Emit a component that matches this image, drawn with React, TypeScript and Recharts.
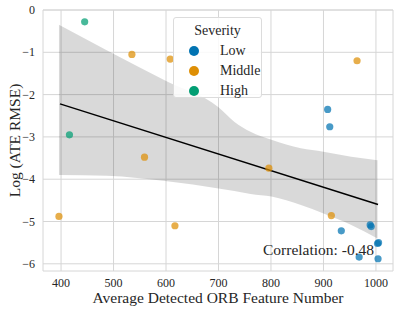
import { ComposedChart, Scatter, Line, Area, XAxis, YAxis, CartesianGrid, ReferenceLine, Legend } from "recharts"

// scatter points: [ORB features, log(ATE RMSE)]
const lowX = [908, 912, 934, 989, 991, 968, 1003, 1005, 1004]
const lowY = [-2.35, -2.76, -5.22, -5.08, -5.12, -5.84, -5.52, -5.5, -5.88]
const middleX = [396, 535, 559, 608, 617, 796, 915, 964]
const middleY = [-4.88, -1.05, -3.48, -1.16, -5.1, -3.74, -4.86, -1.2]
const highX = [416, 445]
const highY = [-2.95, -0.28]

// regression line end points
const fitX = [398, 1004]
const fitY = [-2.22, -4.6]

// confidence band
const bandX = [396, 487, 602, 700, 730, 761, 801, 857, 900, 953, 1003]
const bandLow = [-3.9, -3.92, -4.05, -4.22, -4.28, -4.35, -4.41, -4.61, -4.81, -5.08, -5.4]
const bandHigh = [-0.35, -0.95, -1.69, -2.3, -2.64, -2.88, -3.07, -3.27, -3.35, -3.47, -3.55]

const xTicks = [400, 500, 600, 700, 800, 900, 1000]
const yTicks = [0, -1, -2, -3, -4, -5, -6]

const severities = [
    { name: "Low", color: "#0173b2", xs: lowX, ys: lowY },
    { name: "Middle", color: "#de8f05", xs: middleX, ys: middleY },
    { name: "High", color: "#029e73", xs: highX, ys: highY },
]

const FONT = '"Liberation Serif", "DejaVu Serif", serif'
const TEXT = "#262626"
const GRID = "#d6d6d6"

const toPoints = (xs: number[], ys: number[]) => xs.map((x, i) => ({ x, y: ys[i] }))

const minus = (v: number) => String(v).replace("-", "\u2212")

const XTick = ({ x, y, payload }: any) => (
    <text x={x} y={y + 8} textAnchor="middle" fill={TEXT} fontSize={12} style={{ fontFamily: FONT }}>
        {payload.value}
    </text>
)

const YTick = ({ x, y, payload }: any) => (
    <text x={x} y={y + 4} textAnchor="end" fill={TEXT} fontSize={12} style={{ fontFamily: FONT }}>
        {minus(payload.value)}
    </text>
)

const XLabel = ({ viewBox }: any) => (
    <text
        x={viewBox.x + viewBox.width / 2}
        y={303}
        textAnchor="middle"
        fill={TEXT}
        fontSize={15.5}
        style={{ fontFamily: FONT }}
    >
        Average Detected ORB Feature Number
    </text>
)

const YLabel = ({ viewBox }: any) => {
    const cy = viewBox.y + viewBox.height / 2
    return (
        <text
            x={20}
            y={cy}
            transform={`rotate(-90 20 ${cy})`}
            textAnchor="middle"
            fill={TEXT}
            fontSize={15.5}
            style={{ fontFamily: FONT }}
        >
            Log (ATE RMSE)
        </text>
    )
}

const SeverityLegend = () => (
    <div
        style={{
            width: 89,
            height: 81,
            border: "1px solid #dcdcdc",
            borderRadius: 3,
            background: "rgba(255,255,255,0.85)",
            fontFamily: FONT,
            fontSize: 14,
            color: TEXT,
            boxSizing: "border-box",
        }}
    >
        <div style={{ textAlign: "center", marginTop: 3, height: 20, lineHeight: "20px" }}>Severity</div>
        {severities.map((s) => (
            <div key={s.name} style={{ display: "flex", alignItems: "center", height: 20 }}>
                <div style={{ width: 10, height: 10, borderRadius: 5, background: s.color, marginLeft: 15 }} />
                <span style={{ marginLeft: 21, lineHeight: "20px" }}>{s.name}</span>
            </div>
        ))}
    </div>
)

export default function App() {
    const band = bandX.map((x, i) => ({ x, range: [bandLow[i], bandHigh[i]] }))
    const fit = toPoints(fitX, fitY)

    return (
        <div style={{ position: "absolute", left: 0, top: 0, width: 399, height: 312, background: "#fff" }}>
            <ComposedChart
                width={399}
                height={312}
                margin={{ top: 10, right: 6, bottom: 0, left: 0 }}
                style={{ fontFamily: FONT }}
            >
                <CartesianGrid stroke={GRID} strokeWidth={1} horizontalValues={yTicks} verticalValues={xTicks} />
                <XAxis
                    type="number"
                    dataKey="x"
                    domain={[365.6, 1032.5]}
                    ticks={xTicks}
                    allowDataOverflow
                    height={41}
                    tickLine={false}
                    axisLine={{ stroke: GRID }}
                    tick={<XTick />}
                    label={<XLabel />}
                />
                <YAxis
                    type="number"
                    dataKey="y"
                    domain={[-6.17, 0]}
                    ticks={yTicks}
                    allowDataOverflow
                    width={43}
                    tickLine={false}
                    axisLine={{ stroke: GRID }}
                    tick={<YTick />}
                    label={<YLabel />}
                />
                <ReferenceLine y={0} stroke={GRID} />
                <ReferenceLine x={1032.5} stroke={GRID} />

                {severities.map((s) => (
                    <Scatter
                        key={s.name}
                        name={s.name}
                        data={toPoints(s.xs, s.ys)}
                        fill={s.color}
                        isAnimationActive={false}
                        shape={(p: any) => <circle cx={p.cx} cy={p.cy} r={3.6} fill={s.color} fillOpacity={0.72} />}
                    />
                ))}

                <Area
                    data={band}
                    dataKey="range"
                    type="monotone"
                    stroke="none"
                    fill="#000"
                    fillOpacity={0.15}
                    isAnimationActive={false}
                    legendType="none"
                />
                <Line
                    data={fit}
                    dataKey="y"
                    stroke="#000"
                    strokeWidth={1.5}
                    dot={false}
                    isAnimationActive={false}
                    legendType="none"
                />

                <Legend
                    layout="horizontal"
                    align="center"
                    verticalAlign="middle"
                    wrapperStyle={{ top: 17, left: 173, width: 89, height: 81 }}
                    content={() => <SeverityLegend />}
                />
            </ComposedChart>

            <div
                style={{
                    position: "absolute",
                    left: 263,
                    top: 240,
                    fontFamily: FONT,
                    fontSize: 15.5,
                    color: TEXT,
                    lineHeight: "20px",
                    whiteSpace: "nowrap",
                }}
            >
                Correlation: -0.48
            </div>
        </div>
    )
}
